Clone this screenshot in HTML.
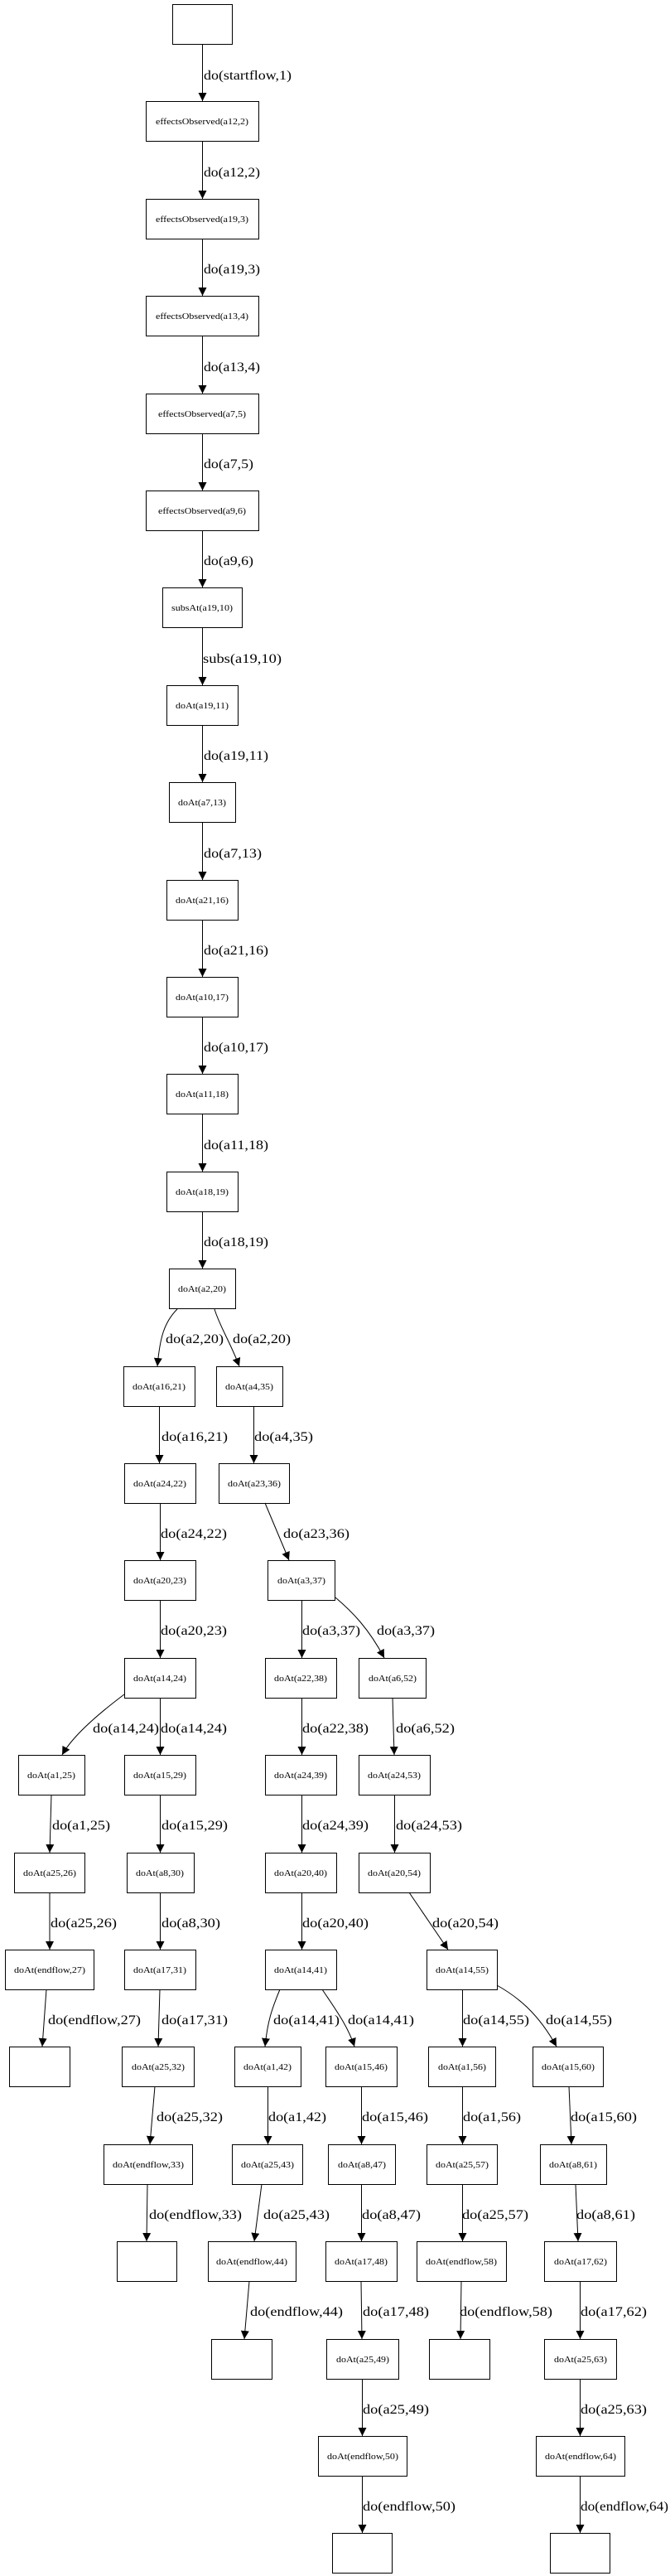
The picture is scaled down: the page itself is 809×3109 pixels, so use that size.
<!DOCTYPE html>
<html><head><meta charset="utf-8"><style>
html,body{margin:0;padding:0;background:#fff}
svg{display:block}
.n{fill:#fff;stroke:#000;stroke-width:1}
.e{fill:none;stroke:#000;stroke-width:1;marker-end:url(#ah)}
.t{font-family:"Liberation Serif",serif;font-size:11px;text-anchor:middle}
.l{font-family:"Liberation Serif",serif;font-size:16px}
</style></head><body>
<svg width="809" height="3109" viewBox="0 0 809 3109" xmlns="http://www.w3.org/2000/svg">
<defs><marker id="ah" markerUnits="userSpaceOnUse" markerWidth="10" markerHeight="10" refX="10" refY="5" orient="auto"><path d="M0,0 L10,5 L0,10 z" fill="#000"/></marker></defs>
<rect width="809" height="3109" fill="#fff"/>
<g>
<rect class="n" x="208.5" y="5.5" width="72" height="48"/>
<rect class="n" x="176.5" y="122.5" width="136" height="48"/><text class="t" x="244" y="150" textLength="112" lengthAdjust="spacingAndGlyphs">effectsObserved(a12,2)</text>
<rect class="n" x="176.5" y="240.5" width="136" height="48"/><text class="t" x="244" y="268" textLength="112" lengthAdjust="spacingAndGlyphs">effectsObserved(a19,3)</text>
<rect class="n" x="176.5" y="357.5" width="136" height="48"/><text class="t" x="244" y="385" textLength="112" lengthAdjust="spacingAndGlyphs">effectsObserved(a13,4)</text>
<rect class="n" x="176.5" y="475.5" width="136" height="48"/><text class="t" x="244" y="503" textLength="106" lengthAdjust="spacingAndGlyphs">effectsObserved(a7,5)</text>
<rect class="n" x="176.5" y="592.5" width="136" height="48"/><text class="t" x="244" y="620" textLength="106" lengthAdjust="spacingAndGlyphs">effectsObserved(a9,6)</text>
<rect class="n" x="196.5" y="709.5" width="96" height="48"/><text class="t" x="244" y="737" textLength="74" lengthAdjust="spacingAndGlyphs">subsAt(a19,10)</text>
<rect class="n" x="201.5" y="827.5" width="86" height="48"/><text class="t" x="244" y="855" textLength="64" lengthAdjust="spacingAndGlyphs">doAt(a19,11)</text>
<rect class="n" x="204.5" y="944.5" width="80" height="48"/><text class="t" x="244" y="972" textLength="58" lengthAdjust="spacingAndGlyphs">doAt(a7,13)</text>
<rect class="n" x="201.5" y="1062.5" width="86" height="48"/><text class="t" x="244" y="1090" textLength="64" lengthAdjust="spacingAndGlyphs">doAt(a21,16)</text>
<rect class="n" x="201.5" y="1179.5" width="86" height="48"/><text class="t" x="244" y="1207" textLength="64" lengthAdjust="spacingAndGlyphs">doAt(a10,17)</text>
<rect class="n" x="201.5" y="1296.5" width="86" height="48"/><text class="t" x="244" y="1324" textLength="64" lengthAdjust="spacingAndGlyphs">doAt(a11,18)</text>
<rect class="n" x="201.5" y="1414.5" width="86" height="48"/><text class="t" x="244" y="1442" textLength="64" lengthAdjust="spacingAndGlyphs">doAt(a18,19)</text>
<rect class="n" x="204.5" y="1531.5" width="80" height="48"/><text class="t" x="244" y="1559" textLength="58" lengthAdjust="spacingAndGlyphs">doAt(a2,20)</text>

<rect class="n" x="149.5" y="1649.5" width="86" height="48"/><text class="t" x="192" y="1677" textLength="64" lengthAdjust="spacingAndGlyphs">doAt(a16,21)</text>
<rect class="n" x="261.5" y="1649.5" width="80" height="48"/><text class="t" x="301" y="1677" textLength="58" lengthAdjust="spacingAndGlyphs">doAt(a4,35)</text>
<rect class="n" x="150.5" y="1766.5" width="86" height="48"/><text class="t" x="193" y="1794" textLength="64" lengthAdjust="spacingAndGlyphs">doAt(a24,22)</text>
<rect class="n" x="264.5" y="1766.5" width="85" height="48"/><text class="t" x="307" y="1794" textLength="64" lengthAdjust="spacingAndGlyphs">doAt(a23,36)</text>
<rect class="n" x="150.5" y="1883.5" width="86" height="48"/><text class="t" x="193" y="1911" textLength="64" lengthAdjust="spacingAndGlyphs">doAt(a20,23)</text>
<rect class="n" x="323.5" y="1883.5" width="81" height="48"/><text class="t" x="364" y="1911" textLength="58" lengthAdjust="spacingAndGlyphs">doAt(a3,37)</text>
<rect class="n" x="150.5" y="2001.5" width="86" height="48"/><text class="t" x="193" y="2029" textLength="64" lengthAdjust="spacingAndGlyphs">doAt(a14,24)</text>
<rect class="n" x="320.5" y="2001.5" width="86" height="48"/><text class="t" x="363" y="2029" textLength="64" lengthAdjust="spacingAndGlyphs">doAt(a22,38)</text>
<rect class="n" x="433.5" y="2001.5" width="81" height="48"/><text class="t" x="474" y="2029" textLength="58" lengthAdjust="spacingAndGlyphs">doAt(a6,52)</text>

<rect class="n" x="22.5" y="2118.5" width="80" height="48"/><text class="t" x="62" y="2146" textLength="58" lengthAdjust="spacingAndGlyphs">doAt(a1,25)</text>
<rect class="n" x="150.5" y="2118.5" width="86" height="48"/><text class="t" x="193" y="2146" textLength="64" lengthAdjust="spacingAndGlyphs">doAt(a15,29)</text>
<rect class="n" x="320.5" y="2118.5" width="86" height="48"/><text class="t" x="363" y="2146" textLength="64" lengthAdjust="spacingAndGlyphs">doAt(a24,39)</text>
<rect class="n" x="433.5" y="2118.5" width="86" height="48"/><text class="t" x="476" y="2146" textLength="64" lengthAdjust="spacingAndGlyphs">doAt(a24,53)</text>

<rect class="n" x="17.5" y="2236.5" width="85" height="48"/><text class="t" x="60" y="2264" textLength="64" lengthAdjust="spacingAndGlyphs">doAt(a25,26)</text>
<rect class="n" x="153.5" y="2236.5" width="81" height="48"/><text class="t" x="193" y="2264" textLength="58" lengthAdjust="spacingAndGlyphs">doAt(a8,30)</text>
<rect class="n" x="320.5" y="2236.5" width="86" height="48"/><text class="t" x="363" y="2264" textLength="64" lengthAdjust="spacingAndGlyphs">doAt(a20,40)</text>
<rect class="n" x="433.5" y="2236.5" width="86" height="48"/><text class="t" x="476" y="2264" textLength="64" lengthAdjust="spacingAndGlyphs">doAt(a20,54)</text>

<rect class="n" x="6.5" y="2353.5" width="107" height="48"/><text class="t" x="60" y="2381" textLength="86" lengthAdjust="spacingAndGlyphs">doAt(endflow,27)</text>
<rect class="n" x="150.5" y="2353.5" width="86" height="48"/><text class="t" x="193" y="2381" textLength="64" lengthAdjust="spacingAndGlyphs">doAt(a17,31)</text>
<rect class="n" x="320.5" y="2353.5" width="86" height="48"/><text class="t" x="363" y="2381" textLength="64" lengthAdjust="spacingAndGlyphs">doAt(a14,41)</text>
<rect class="n" x="515.5" y="2353.5" width="85" height="48"/><text class="t" x="558" y="2381" textLength="64" lengthAdjust="spacingAndGlyphs">doAt(a14,55)</text>

<rect class="n" x="11.5" y="2470.5" width="73" height="48"/>
<rect class="n" x="147.5" y="2470.5" width="87" height="48"/><text class="t" x="191" y="2498" textLength="64" lengthAdjust="spacingAndGlyphs">doAt(a25,32)</text>
<rect class="n" x="283.5" y="2470.5" width="80" height="48"/><text class="t" x="323" y="2498" textLength="58" lengthAdjust="spacingAndGlyphs">doAt(a1,42)</text>
<rect class="n" x="393.5" y="2470.5" width="86" height="48"/><text class="t" x="436" y="2498" textLength="64" lengthAdjust="spacingAndGlyphs">doAt(a15,46)</text>
<rect class="n" x="517.5" y="2470.5" width="81" height="48"/><text class="t" x="558" y="2498" textLength="58" lengthAdjust="spacingAndGlyphs">doAt(a1,56)</text>
<rect class="n" x="643.5" y="2470.5" width="85" height="48"/><text class="t" x="686" y="2498" textLength="64" lengthAdjust="spacingAndGlyphs">doAt(a15,60)</text>

<rect class="n" x="125.5" y="2588.5" width="107" height="48"/><text class="t" x="179" y="2616" textLength="86" lengthAdjust="spacingAndGlyphs">doAt(endflow,33)</text>
<rect class="n" x="280.5" y="2588.5" width="85" height="48"/><text class="t" x="323" y="2616" textLength="64" lengthAdjust="spacingAndGlyphs">doAt(a25,43)</text>
<rect class="n" x="396.5" y="2588.5" width="81" height="48"/><text class="t" x="437" y="2616" textLength="58" lengthAdjust="spacingAndGlyphs">doAt(a8,47)</text>
<rect class="n" x="515.5" y="2588.5" width="85" height="48"/><text class="t" x="558" y="2616" textLength="64" lengthAdjust="spacingAndGlyphs">doAt(a25,57)</text>
<rect class="n" x="652.5" y="2588.5" width="80" height="48"/><text class="t" x="692" y="2616" textLength="58" lengthAdjust="spacingAndGlyphs">doAt(a8,61)</text>

<rect class="n" x="141.5" y="2705.5" width="72" height="48"/>
<rect class="n" x="251.5" y="2705.5" width="106" height="48"/><text class="t" x="304" y="2733" textLength="86" lengthAdjust="spacingAndGlyphs">doAt(endflow,44)</text>
<rect class="n" x="393.5" y="2705.5" width="86" height="48"/><text class="t" x="436" y="2733" textLength="64" lengthAdjust="spacingAndGlyphs">doAt(a17,48)</text>
<rect class="n" x="503.5" y="2705.5" width="108" height="48"/><text class="t" x="557" y="2733" textLength="86" lengthAdjust="spacingAndGlyphs">doAt(endflow,58)</text>
<rect class="n" x="657.5" y="2705.5" width="87" height="48"/><text class="t" x="701" y="2733" textLength="64" lengthAdjust="spacingAndGlyphs">doAt(a17,62)</text>

<rect class="n" x="255.5" y="2823.5" width="73" height="48"/>
<rect class="n" x="394.5" y="2823.5" width="87" height="48"/><text class="t" x="438" y="2851" textLength="64" lengthAdjust="spacingAndGlyphs">doAt(a25,49)</text>
<rect class="n" x="518.5" y="2823.5" width="73" height="48"/>
<rect class="n" x="657.5" y="2823.5" width="87" height="48"/><text class="t" x="701" y="2851" textLength="64" lengthAdjust="spacingAndGlyphs">doAt(a25,63)</text>

<rect class="n" x="384.5" y="2940.5" width="107" height="48"/><text class="t" x="438" y="2968" textLength="86" lengthAdjust="spacingAndGlyphs">doAt(endflow,50)</text>
<rect class="n" x="647.5" y="2940.5" width="107" height="48"/><text class="t" x="701" y="2968" textLength="86" lengthAdjust="spacingAndGlyphs">doAt(endflow,64)</text>

<rect class="n" x="401.5" y="3057.5" width="72" height="48"/>
<rect class="n" x="664.5" y="3057.5" width="72" height="48"/>
</g>

<g>
<path class="e" d="M244.5,53 L244.5,122"/><text class="l" x="246" y="96" textLength="106" lengthAdjust="spacingAndGlyphs">do(startflow,1)</text>
<path class="e" d="M244.5,170 L244.5,240"/><text class="l" x="246" y="213" textLength="68" lengthAdjust="spacingAndGlyphs">do(a12,2)</text>
<path class="e" d="M244.5,288 L244.5,357"/><text class="l" x="246" y="330" textLength="68" lengthAdjust="spacingAndGlyphs">do(a19,3)</text>
<path class="e" d="M244.5,405 L244.5,475"/><text class="l" x="246" y="448" textLength="68" lengthAdjust="spacingAndGlyphs">do(a13,4)</text>
<path class="e" d="M244.5,523 L244.5,592"/><text class="l" x="246" y="565" textLength="60" lengthAdjust="spacingAndGlyphs">do(a7,5)</text>
<path class="e" d="M244.5,640 L244.5,709"/><text class="l" x="246" y="682" textLength="60" lengthAdjust="spacingAndGlyphs">do(a9,6)</text>
<path class="e" d="M244.5,757 L244.5,827"/><text class="l" x="245" y="800" textLength="95" lengthAdjust="spacingAndGlyphs">subs(a19,10)</text>
<path class="e" d="M244.5,875 L244.5,944"/><text class="l" x="246" y="917" textLength="78" lengthAdjust="spacingAndGlyphs">do(a19,11)</text>
<path class="e" d="M244.5,992 L244.5,1062"/><text class="l" x="246" y="1035" textLength="70" lengthAdjust="spacingAndGlyphs">do(a7,13)</text>
<path class="e" d="M244.5,1110 L244.5,1179"/><text class="l" x="246" y="1152" textLength="78" lengthAdjust="spacingAndGlyphs">do(a21,16)</text>
<path class="e" d="M244.5,1227 L244.5,1296"/><text class="l" x="246" y="1269" textLength="78" lengthAdjust="spacingAndGlyphs">do(a10,17)</text>
<path class="e" d="M244.5,1344 L244.5,1414"/><text class="l" x="246" y="1387" textLength="78" lengthAdjust="spacingAndGlyphs">do(a11,18)</text>
<path class="e" d="M244.5,1462 L244.5,1531"/><text class="l" x="246" y="1504" textLength="78" lengthAdjust="spacingAndGlyphs">do(a18,19)</text>

<path class="e" d="M214,1580 C198,1596 193,1615 190,1649"/><text class="l" x="200" y="1621" textLength="70" lengthAdjust="spacingAndGlyphs">do(a2,20)</text>
<path class="e" d="M259,1580 C265,1600 278,1620 289,1649"/><text class="l" x="281" y="1621" textLength="70" lengthAdjust="spacingAndGlyphs">do(a2,20)</text>

<path class="e" d="M192.5,1697 L192.5,1766"/><text class="l" x="195" y="1739" textLength="80" lengthAdjust="spacingAndGlyphs">do(a16,21)</text>
<path class="e" d="M306.5,1697 L306.5,1766"/><text class="l" x="307" y="1739" textLength="71" lengthAdjust="spacingAndGlyphs">do(a4,35)</text>

<path class="e" d="M193.5,1814 L193.5,1883"/><text class="l" x="194" y="1856" textLength="80" lengthAdjust="spacingAndGlyphs">do(a24,22)</text>
<path class="e" d="M320,1814 L349,1883"/><text class="l" x="342" y="1856" textLength="80" lengthAdjust="spacingAndGlyphs">do(a23,36)</text>

<path class="e" d="M193.5,1931 L193.5,2001"/><text class="l" x="194" y="1973" textLength="80" lengthAdjust="spacingAndGlyphs">do(a20,23)</text>
<path class="e" d="M364.5,1931 L364.5,2001"/><text class="l" x="365" y="1973" textLength="70" lengthAdjust="spacingAndGlyphs">do(a3,37)</text>
<path class="e" d="M405,1928 C425,1945 445,1965 464,2001"/><text class="l" x="455" y="1973" textLength="70" lengthAdjust="spacingAndGlyphs">do(a3,37)</text>

<path class="e" d="M150,2045 C110,2075 85,2100 75,2118"/><text class="l" x="112" y="2091" textLength="80" lengthAdjust="spacingAndGlyphs">do(a14,24)</text>
<path class="e" d="M193.5,2049 L193.5,2118"/><text class="l" x="194" y="2091" textLength="80" lengthAdjust="spacingAndGlyphs">do(a14,24)</text>
<path class="e" d="M364.5,2049 L364.5,2118"/><text class="l" x="365" y="2091" textLength="80" lengthAdjust="spacingAndGlyphs">do(a22,38)</text>
<path class="e" d="M474,2049 L476,2118"/><text class="l" x="478" y="2091" textLength="71" lengthAdjust="spacingAndGlyphs">do(a6,52)</text>

<path class="e" d="M62,2166 L60,2236"/><text class="l" x="63" y="2208" textLength="70" lengthAdjust="spacingAndGlyphs">do(a1,25)</text>
<path class="e" d="M193.5,2166 L193.5,2236"/><text class="l" x="195" y="2208" textLength="80" lengthAdjust="spacingAndGlyphs">do(a15,29)</text>
<path class="e" d="M364.5,2166 L364.5,2236"/><text class="l" x="365" y="2208" textLength="80" lengthAdjust="spacingAndGlyphs">do(a24,39)</text>
<path class="e" d="M476.5,2166 L476.5,2236"/><text class="l" x="478" y="2208" textLength="80" lengthAdjust="spacingAndGlyphs">do(a24,53)</text>

<path class="e" d="M60,2284 L60,2353"/><text class="l" x="61" y="2326" textLength="80" lengthAdjust="spacingAndGlyphs">do(a25,26)</text>
<path class="e" d="M193.5,2284 L193.5,2353"/><text class="l" x="195" y="2326" textLength="71" lengthAdjust="spacingAndGlyphs">do(a8,30)</text>
<path class="e" d="M364.5,2284 L364.5,2353"/><text class="l" x="365" y="2326" textLength="80" lengthAdjust="spacingAndGlyphs">do(a20,40)</text>
<path class="e" d="M494,2284 L541,2353"/><text class="l" x="522" y="2326" textLength="80" lengthAdjust="spacingAndGlyphs">do(a20,54)</text>

<path class="e" d="M56,2401 L51,2470"/><text class="l" x="58" y="2443" textLength="112" lengthAdjust="spacingAndGlyphs">do(endflow,27)</text>
<path class="e" d="M193,2401 L191,2470"/><text class="l" x="195" y="2443" textLength="80" lengthAdjust="spacingAndGlyphs">do(a17,31)</text>
<path class="e" d="M338,2401 C328,2425 323,2440 320,2470"/><text class="l" x="330" y="2443" textLength="80" lengthAdjust="spacingAndGlyphs">do(a14,41)</text>
<path class="e" d="M389,2401 C405,2425 420,2445 428,2470"/><text class="l" x="420" y="2443" textLength="80" lengthAdjust="spacingAndGlyphs">do(a14,41)</text>
<path class="e" d="M558.5,2401 L558.5,2470"/><text class="l" x="559" y="2443" textLength="80" lengthAdjust="spacingAndGlyphs">do(a14,55)</text>
<path class="e" d="M600,2396 C625,2410 650,2430 672,2470"/><text class="l" x="659" y="2443" textLength="80" lengthAdjust="spacingAndGlyphs">do(a14,55)</text>

<path class="e" d="M187,2518 L181,2588"/><text class="l" x="189" y="2560" textLength="80" lengthAdjust="spacingAndGlyphs">do(a25,32)</text>
<path class="e" d="M323.5,2518 L323.5,2588"/><text class="l" x="324" y="2560" textLength="70" lengthAdjust="spacingAndGlyphs">do(a1,42)</text>
<path class="e" d="M436.5,2518 L436.5,2588"/><text class="l" x="437" y="2560" textLength="80" lengthAdjust="spacingAndGlyphs">do(a15,46)</text>
<path class="e" d="M558.5,2518 L558.5,2588"/><text class="l" x="559" y="2560" textLength="70" lengthAdjust="spacingAndGlyphs">do(a1,56)</text>
<path class="e" d="M687,2518 L690,2588"/><text class="l" x="689" y="2560" textLength="80" lengthAdjust="spacingAndGlyphs">do(a15,60)</text>

<path class="e" d="M178,2636 L177,2705"/><text class="l" x="180" y="2678" textLength="112" lengthAdjust="spacingAndGlyphs">do(endflow,33)</text>
<path class="e" d="M316,2636 L307,2705"/><text class="l" x="318" y="2678" textLength="80" lengthAdjust="spacingAndGlyphs">do(a25,43)</text>
<path class="e" d="M436.5,2636 L436.5,2705"/><text class="l" x="437" y="2678" textLength="71" lengthAdjust="spacingAndGlyphs">do(a8,47)</text>
<path class="e" d="M558.5,2636 L558.5,2705"/><text class="l" x="558" y="2678" textLength="80" lengthAdjust="spacingAndGlyphs">do(a25,57)</text>
<path class="e" d="M695,2636 L698,2705"/><text class="l" x="696" y="2678" textLength="71" lengthAdjust="spacingAndGlyphs">do(a8,61)</text>

<path class="e" d="M301,2753 L295,2823"/><text class="l" x="302" y="2795" textLength="112" lengthAdjust="spacingAndGlyphs">do(endflow,44)</text>
<path class="e" d="M436,2753 L437,2823"/><text class="l" x="438" y="2795" textLength="80" lengthAdjust="spacingAndGlyphs">do(a17,48)</text>
<path class="e" d="M557,2753 L556,2823"/><text class="l" x="555" y="2795" textLength="112" lengthAdjust="spacingAndGlyphs">do(endflow,58)</text>
<path class="e" d="M700.5,2753 L700.5,2823"/><text class="l" x="701" y="2795" textLength="80" lengthAdjust="spacingAndGlyphs">do(a17,62)</text>

<path class="e" d="M437.5,2871 L437.5,2940"/><text class="l" x="438" y="2913" textLength="80" lengthAdjust="spacingAndGlyphs">do(a25,49)</text>
<path class="e" d="M700.5,2871 L700.5,2940"/><text class="l" x="701" y="2913" textLength="80" lengthAdjust="spacingAndGlyphs">do(a25,63)</text>

<path class="e" d="M437.5,2988 L437.5,3057"/><text class="l" x="438" y="3030" textLength="112" lengthAdjust="spacingAndGlyphs">do(endflow,50)</text>
<path class="e" d="M700.5,2988 L700.5,3057"/><text class="l" x="701" y="3030" textLength="106" lengthAdjust="spacingAndGlyphs">do(endflow,64)</text>
</g>
</svg>
</body></html>
